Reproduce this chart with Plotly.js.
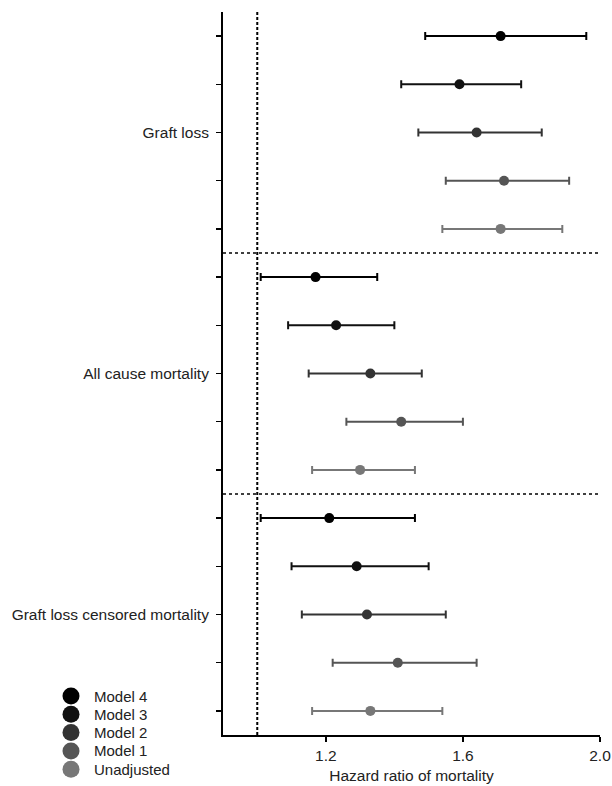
<!DOCTYPE html>
<html>
<head>
<meta charset="utf-8">
<script src="https://cdn.plot.ly/plotly-3.0.1.min.js"></script>
<style>html,body{margin:0;padding:0;background:#fff;}#chart{width:612px;height:786px;}</style>
</head>
<body>
<div id="chart"></div>
<script>
var categories = ["Graft loss", "All cause mortality", "Graft loss censored mortality"];
var models = ["Model 4", "Model 3", "Model 2", "Model 1", "Unadjusted"];
var colors = ["#000000", "#111111", "#333333", "#555555", "#777777"];

var hr_model4 = [1.71, 1.17, 1.21];
var hr_model3 = [1.59, 1.23, 1.29];
var hr_model2 = [1.64, 1.33, 1.32];
var hr_model1 = [1.72, 1.42, 1.41];
var hr_unadj  = [1.71, 1.30, 1.33];

var lo_model4 = [1.49, 1.01, 1.01];
var lo_model3 = [1.42, 1.09, 1.10];
var lo_model2 = [1.47, 1.15, 1.13];
var lo_model1 = [1.55, 1.26, 1.22];
var lo_unadj  = [1.54, 1.16, 1.16];

var hi_model4 = [1.96, 1.35, 1.46];
var hi_model3 = [1.77, 1.40, 1.50];
var hi_model2 = [1.83, 1.48, 1.55];
var hi_model1 = [1.91, 1.60, 1.64];
var hi_unadj  = [1.89, 1.46, 1.54];

var xTicks = [1.2, 1.6, 2.0];
var xTickText = ["1.2", "1.6", "2.0"];

var hrs = [hr_model4, hr_model3, hr_model2, hr_model1, hr_unadj];
var los = [lo_model4, lo_model3, lo_model2, lo_model1, lo_unadj];
var his = [hi_model4, hi_model3, hi_model2, hi_model1, hi_unadj];

var FONT = "Liberation Sans, Arial, Helvetica, sans-serif";
var W = 612, H = 786;
var M = { l: 223, r: 12, t: 12, b: 51 };
var PW = W - M.l - M.r, PH = H - M.t - M.b;

var nM = models.length;
var traces = models.map(function (m, mi) {
  var ys = categories.map(function (c, ci) { return ci * nM + mi + 1; });
  return {
    type: "scatter",
    mode: "markers",
    name: m,
    showlegend: false,
    x: hrs[mi],
    y: ys,
    marker: { color: colors[mi], size: 10 },
    error_x: {
      type: "data",
      symmetric: false,
      array: hrs[mi].map(function (v, i) { return his[mi][i] - v; }),
      arrayminus: hrs[mi].map(function (v, i) { return v - los[mi][i]; }),
      color: colors[mi],
      thickness: 2,
      width: 4
    }
  };
});

var yTickVals = [];
var yTickText = [];
for (var i = 1; i <= categories.length * nM; i++) {
  yTickVals.push(i);
  var ci = Math.floor((i - 1) / nM);
  yTickText.push(((i - 1) % nM) === Math.floor(nM / 2) ? categories[ci] : "");
}

var shapes = [
  { type: "line", xref: "x", yref: "paper", x0: 1.0, x1: 1.0, y0: 0, y1: 1,
    line: { color: "#000", width: 2, dash: "3px,2px" } }
];
for (var k = 1; k < categories.length; k++) {
  shapes.push({ type: "line", xref: "paper", yref: "y", x0: 0, x1: 0.995,
    y0: k * nM + 0.5, y1: k * nM + 0.5,
    line: { color: "#000", width: 1.5, dash: "dot" } });
}

// custom legend (compact, as in the reference)
var annotations = [];
var legCx = 71, legTx = 92, legTop = 696, legStep = 18.3, legR = 8.5;
models.forEach(function (m, mi) {
  var py = legTop + legStep * mi;
  var yp = (H - M.b - py) / PH;
  shapes.push({ type: "circle", xref: "paper", yref: "paper",
    xsizemode: "pixel", ysizemode: "pixel",
    xanchor: (legCx - M.l) / PW, yanchor: yp,
    x0: -legR, x1: legR, y0: -legR, y1: legR,
    fillcolor: colors[mi], line: { width: 0 } });
  annotations.push({ xref: "paper", yref: "paper", x: (legTx - M.l) / PW, y: yp,
    xanchor: "left", yanchor: "middle", showarrow: false, text: m,
    font: { family: FONT, size: 15, color: "#222" } });
});

var layout = {
  width: W, height: H,
  margin: M,
  paper_bgcolor: "#fff", plot_bgcolor: "#fff",
  font: { family: FONT, size: 15.5, color: "#222" },
  showlegend: false,
  xaxis: {
    range: [0.9, 2.0], tickvals: xTicks, ticktext: xTickText,
    showgrid: false, zeroline: false, showline: true, linecolor: "#000", linewidth: 2,
    ticks: "outside", ticklen: 5, tickwidth: 1.5, tickcolor: "#000",
    tickfont: { size: 15.5, color: "#222" },
    title: { text: "Hazard ratio of mortality", font: { size: 15.5, color: "#222" }, standoff: 8 }
  },
  yaxis: {
    range: [15.5, 0.5], tickvals: yTickVals, ticktext: yTickText,
    showgrid: false, zeroline: false, showline: true, linecolor: "#000", linewidth: 2,
    ticks: "outside", ticklen: 5, tickwidth: 1.5, tickcolor: "#000",
    tickfont: { size: 15.5, color: "#222" }, ticklabelstandoff: 4
  },
  shapes: shapes,
  annotations: annotations
};

Plotly.newPlot("chart", traces, layout, { displayModeBar: false, staticPlot: true });
</script>
</body>
</html>
